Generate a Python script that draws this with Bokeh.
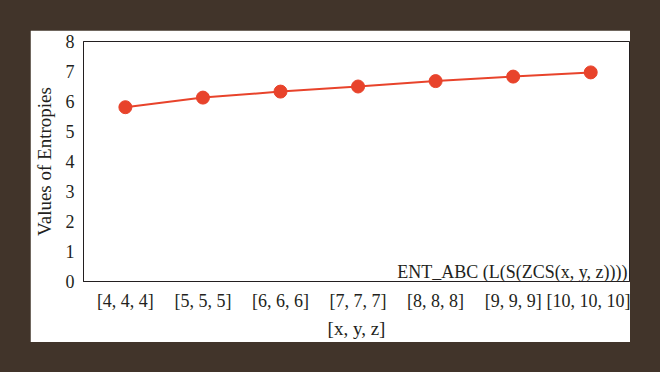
from bokeh.plotting import figure
from bokeh.models import Label, Range1d, FixedTicker
from bokeh.layouts import column
from bokeh.embed import file_html
from bokeh.resources import INLINE

categories = ["[4, 4, 4]", "[5, 5, 5]", "[6, 6, 6]", "[7, 7, 7]", "[8, 8, 8]", "[9, 9, 9]", "[10, 10, 10]"]
entropies = [5.81, 6.13, 6.33, 6.50, 6.68, 6.83, 6.97]
y_ticks = [0, 1, 2, 3, 4, 5, 6, 7, 8]
series_name = "ENT_ABC (L(S(ZCS(x, y, z))))"

FONT = "Liberation Serif"
TXT = "#231f20"
RED = "#e8432b"
BG = "#41342a"

xs = list(range(len(categories)))

p = figure(width=600, height=312, output_backend="svg", toolbar_location=None,
           x_range=Range1d(-0.54, 6.5), y_range=Range1d(0, 8),
           min_border_left=51, min_border_right=1, min_border_top=11, min_border_bottom=61,
           background_fill_color="white", border_fill_color="white",
           outline_line_color="#231f20", outline_line_width=1)

p.line(xs, entropies, line_color=RED, line_width=2)
p.scatter(xs, entropies, size=13, fill_color=RED, line_color=RED)

p.xgrid.visible = False
p.ygrid.visible = False

p.xaxis.ticker = FixedTicker(ticks=xs)
p.xaxis.major_label_overrides = {i: c for i, c in enumerate(categories)}
p.yaxis.ticker = FixedTicker(ticks=y_ticks)

for ax in (p.xaxis[0], p.yaxis[0]):
    ax.axis_line_color = "#231f20"
    ax.major_tick_line_color = None
    ax.minor_tick_line_color = None
    ax.major_tick_in = 0
    ax.major_tick_out = 0
    ax.major_label_text_font = FONT
    ax.major_label_text_font_size = "18px"
    ax.major_label_text_color = TXT
    ax.axis_label_text_font = FONT
    ax.axis_label_text_font_size = "19px"
    ax.axis_label_text_font_style = "normal"
    ax.axis_label_text_color = TXT

p.xaxis.axis_label = "[x, y, z]"
p.yaxis.axis_label = "Values of Entropies"
p.xaxis.major_label_standoff = 9
p.yaxis.major_label_standoff = 9
p.xaxis.axis_label_standoff = 4
p.yaxis.axis_label_standoff = 8

p.add_layout(Label(x=6.5, y=0.33, text=series_name, text_align="right",
                   text_baseline="alphabetic", x_offset=-2,
                   text_font=FONT, text_font_size="18px", text_color=TXT))

layout = column(p, styles={"background-color": BG, "padding": "30px"})

open("out.html", "w").write(file_html(layout, INLINE))
